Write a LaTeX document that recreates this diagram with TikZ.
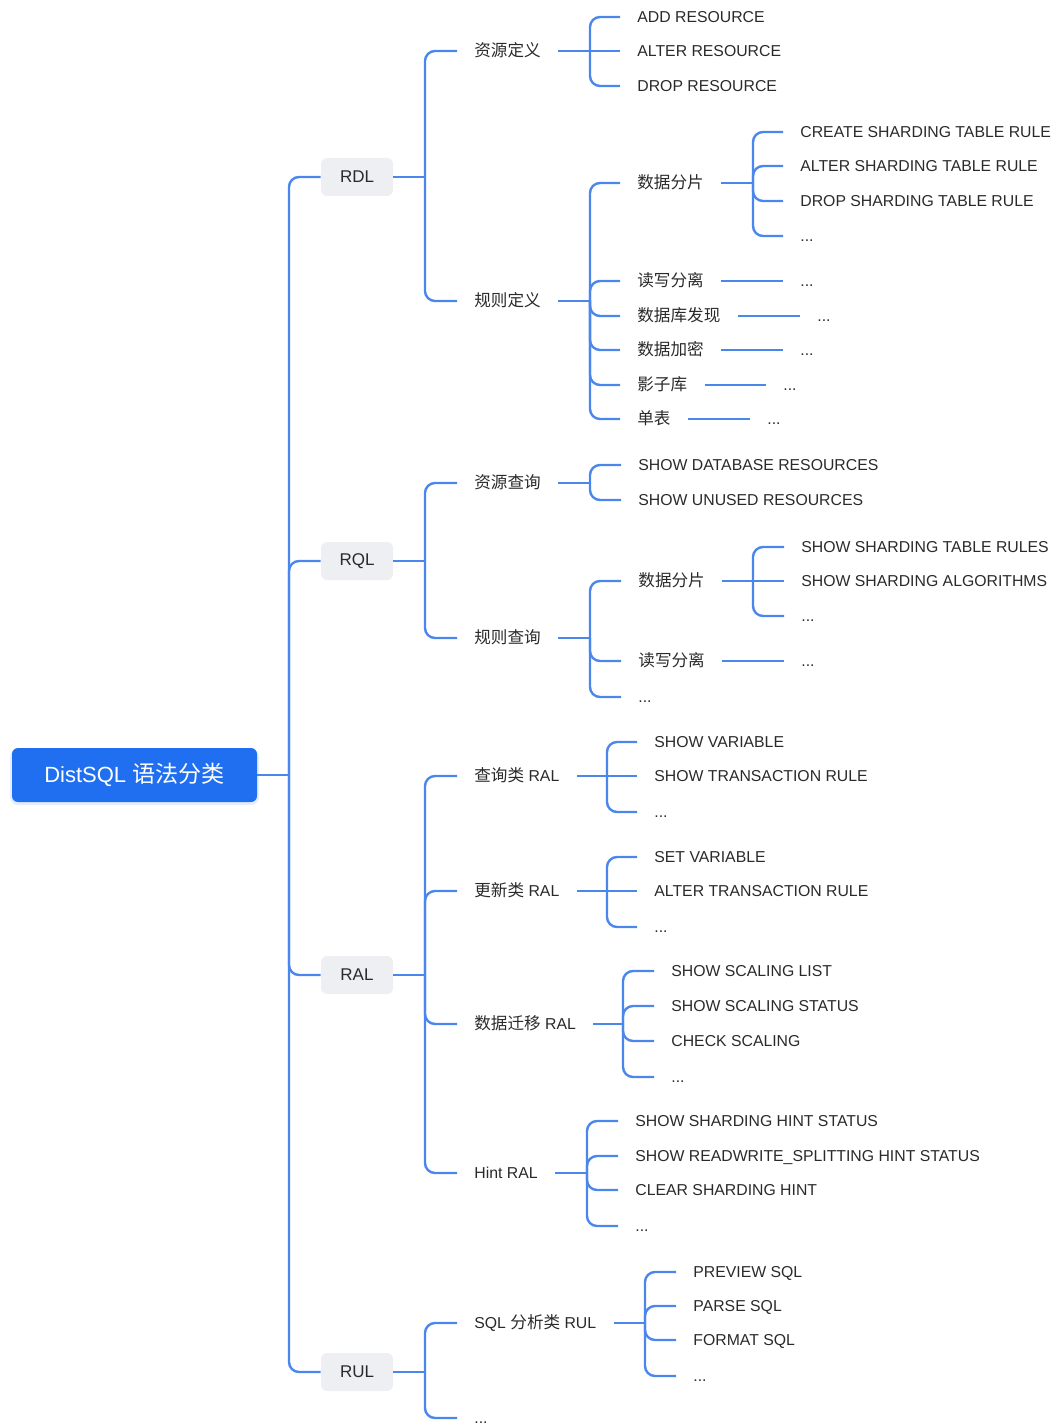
\documentclass[tikz,border=0pt]{standalone}
\usepackage{fontspec}
\setmainfont{Liberation Sans}
\newfontfamily\cjk{Noto Sans CJK SC}[Scale=1.05]
\usetikzlibrary{calc}
\definecolor{linkblue}{HTML}{4A86EC}
\definecolor{rootblue}{HTML}{1F6FF0}
\definecolor{boxgray}{HTML}{EEEFF2}
\definecolor{txt}{HTML}{2A2A2A}

% parent label -> junction, junction -> child label, label -> leaf label
\newcommand\mystub[2]{\draw[link] ([xshift=8.5pt]#1.east) -- (#2);}
\newcommand\myfork[2]{\draw[link] (#1) |- ([xshift=-8.5pt]#2.west);}
\newcommand\mystraight[2]{\draw[link] (#1) -- ([xshift=-8.5pt]#2.west);}
\newcommand\myleaf[2]{\draw[link] ([xshift=8.5pt]#1.east) -- ([xshift=-8.5pt]#2.west);}

\begin{document}
\begin{tikzpicture}[x=0.5pt,y=-0.5pt,
  link/.style={draw=linkblue,line width=1.2pt,rounded corners=5pt},
  lbl/.style={anchor=west,inner sep=0pt,text height=5.6pt,text depth=0pt,
    font=\fontsize{7.9}{9}\selectfont,text=txt},
  cat/.style={fill=boxgray,rounded corners=3pt,minimum width=36pt,minimum height=19pt,
    inner sep=0pt,font=\fontsize{8.5}{10}\selectfont,text=txt},
  rootbox/.style={fill=rootblue,rounded corners=3pt,minimum width=122.5pt,
    minimum height=27pt,inner sep=0pt,text=white,font=\fontsize{11}{13}\selectfont}]
\useasboundingbox (0,0) rectangle (1056,1428);

% ---------- root and the four categories ----------
\fill[rootblue!12,rounded corners=4pt] (10,749) rectangle (259,805);
\node[rootbox] (root) at (134.5,775) {DistSQL {\cjk 语法分类}};
\node[cat] (rdl) at (357,177) {RDL};
\node[cat] (rql) at (357,561) {RQL};
\node[cat] (ral) at (357,975) {RAL};
\node[cat] (rul) at (357,1372) {RUL};

\coordinate (j0) at (289,775);
\draw[link] (root.east) -- (j0);
\foreach \c in {rdl,rql,ral,rul} {\draw[link] (j0) |- (\c.west);}

\coordinate (jrdl) at (425,177);
\coordinate (jrql) at (425,561);
\coordinate (jral) at (425,975);
\coordinate (jrul) at (425,1372);
\draw[link] (rdl.east) -- (jrdl);
\draw[link] (rql.east) -- (jrql);
\draw[link] (ral.east) -- (jral);
\draw[link] (rul.east) -- (jrul);

% ---------- RDL ----------
\node[lbl] (a1) at (474,51) {\cjk 资源定义};
\node[lbl] (a2) at (474,301) {\cjk 规则定义};
\myfork{jrdl}{a1} \myfork{jrdl}{a2}

\coordinate (ja1) at (590,51);
\mystub{a1}{ja1}
\node[lbl] (a11) at (637,17) {ADD RESOURCE};
\node[lbl] (a12) at (637,51) {ALTER RESOURCE};
\node[lbl] (a13) at (637,86) {DROP RESOURCE};
\myfork{ja1}{a11} \mystraight{ja1}{a12} \myfork{ja1}{a13}

\coordinate (ja2) at (590,301);
\mystub{a2}{ja2}
\node[lbl] (a21) at (637,183) {\cjk 数据分片};
\node[lbl] (a22) at (637,281) {\cjk 读写分离};
\node[lbl] (a23) at (637,316) {\cjk 数据库发现};
\node[lbl] (a24) at (637,350) {\cjk 数据加密};
\node[lbl] (a25) at (637,385) {\cjk 影子库};
\node[lbl] (a26) at (637,419) {\cjk 单表};
\foreach \c in {a21,a22,a23,a24,a25,a26} {\myfork{ja2}{\c}}

\coordinate (ja21) at (753,183);
\mystub{a21}{ja21}
\node[lbl] (a211) at (800,132) {CREATE SHARDING TABLE RULE};
\node[lbl] (a212) at (800,166) {ALTER SHARDING TABLE RULE};
\node[lbl] (a213) at (800,201) {DROP SHARDING TABLE RULE};
\node[lbl] (a214) at (800,236) {...};
\foreach \c in {a211,a212,a213,a214} {\myfork{ja21}{\c}}

\node[lbl] (a221) at (800,281) {...};
\node[lbl] (a231) at (817,316) {...};
\node[lbl] (a241) at (800,350) {...};
\node[lbl] (a251) at (783,385) {...};
\node[lbl] (a261) at (767,419) {...};
\myleaf{a22}{a221} \myleaf{a23}{a231} \myleaf{a24}{a241}
\myleaf{a25}{a251} \myleaf{a26}{a261}

% ---------- RQL ----------
\node[lbl] (b1) at (474,483) {\cjk 资源查询};
\node[lbl] (b2) at (474,638) {\cjk 规则查询};
\myfork{jrql}{b1} \myfork{jrql}{b2}

\coordinate (jb1) at (590,483);
\mystub{b1}{jb1}
\node[lbl] (b11) at (638,465) {SHOW DATABASE RESOURCES};
\node[lbl] (b12) at (638,500) {SHOW UNUSED RESOURCES};
\myfork{jb1}{b11} \myfork{jb1}{b12}

\coordinate (jb2) at (590,638);
\mystub{b2}{jb2}
\node[lbl] (b21) at (638,581) {\cjk 数据分片};
\node[lbl] (b22) at (638,661) {\cjk 读写分离};
\node[lbl] (b23) at (638,697) {...};
\foreach \c in {b21,b22,b23} {\myfork{jb2}{\c}}

\coordinate (jb21) at (753,581);
\mystub{b21}{jb21}
\node[lbl] (b211) at (801,547) {SHOW SHARDING TABLE RULES};
\node[lbl] (b212) at (801,581) {SHOW SHARDING ALGORITHMS};
\node[lbl] (b213) at (801,616) {...};
\myfork{jb21}{b211} \mystraight{jb21}{b212} \myfork{jb21}{b213}

\node[lbl] (b221) at (801,661) {...};
\myleaf{b22}{b221}

% ---------- RAL ----------
\node[lbl] (c1) at (474,776) {{\cjk 查询类} RAL};
\node[lbl] (c2) at (474,891) {{\cjk 更新类} RAL};
\node[lbl] (c3) at (474,1024) {{\cjk 数据迁移} RAL};
\node[lbl] (c4) at (474,1173) {Hint RAL};
\foreach \c in {c1,c2,c3,c4} {\myfork{jral}{\c}}

\coordinate (jc1) at (607,776);
\mystub{c1}{jc1}
\node[lbl] (c11) at (654,742) {SHOW VARIABLE};
\node[lbl] (c12) at (654,776) {SHOW TRANSACTION RULE};
\node[lbl] (c13) at (654,812) {...};
\myfork{jc1}{c11} \mystraight{jc1}{c12} \myfork{jc1}{c13}

\coordinate (jc2) at (607,891);
\mystub{c2}{jc2}
\node[lbl] (c21) at (654,857) {SET VARIABLE};
\node[lbl] (c22) at (654,891) {ALTER TRANSACTION RULE};
\node[lbl] (c23) at (654,927) {...};
\myfork{jc2}{c21} \mystraight{jc2}{c22} \myfork{jc2}{c23}

\coordinate (jc3) at (623,1024);
\mystub{c3}{jc3}
\node[lbl] (c31) at (671,971) {SHOW SCALING LIST};
\node[lbl] (c32) at (671,1006) {SHOW SCALING STATUS};
\node[lbl] (c33) at (671,1041) {CHECK SCALING};
\node[lbl] (c34) at (671,1077) {...};
\foreach \c in {c31,c32,c33,c34} {\myfork{jc3}{\c}}

\coordinate (jc4) at (587,1173);
\mystub{c4}{jc4}
\node[lbl] (c41) at (635,1121) {SHOW SHARDING HINT STATUS};
\node[lbl] (c42) at (635,1156) {SHOW READWRITE\_SPLITTING HINT STATUS};
\node[lbl] (c43) at (635,1190) {CLEAR SHARDING HINT};
\node[lbl] (c44) at (635,1226) {...};
\foreach \c in {c41,c42,c43,c44} {\myfork{jc4}{\c}}

% ---------- RUL ----------
\node[lbl] (d1) at (474,1323) {SQL {\cjk 分析类} RUL};
\node[lbl] (d2) at (474,1418) {...};
\myfork{jrul}{d1} \myfork{jrul}{d2}

\coordinate (jd1) at (645,1323);
\mystub{d1}{jd1}
\node[lbl] (d11) at (693,1272) {PREVIEW SQL};
\node[lbl] (d12) at (693,1306) {PARSE SQL};
\node[lbl] (d13) at (693,1340) {FORMAT SQL};
\node[lbl] (d14) at (693,1376) {...};
\foreach \c in {d11,d12,d13,d14} {\myfork{jd1}{\c}}

\end{tikzpicture}
\end{document}
